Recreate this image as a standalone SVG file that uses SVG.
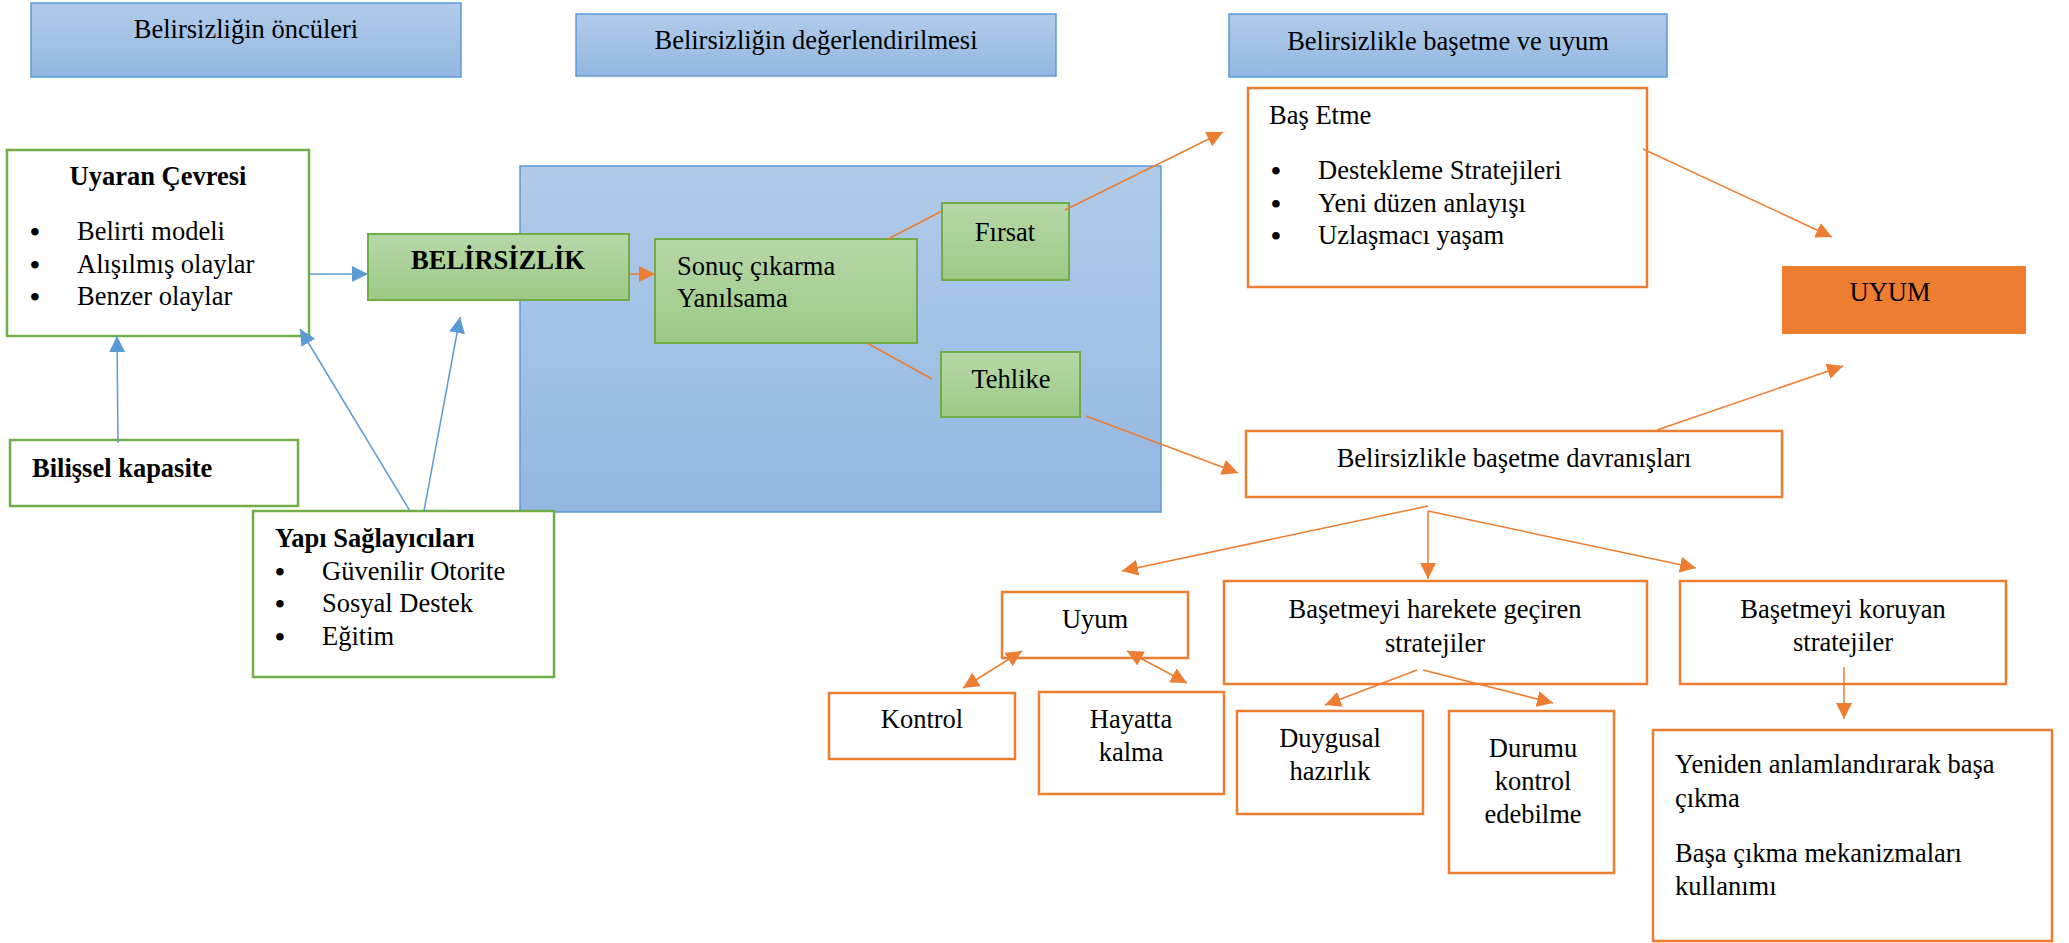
<svg xmlns="http://www.w3.org/2000/svg" width="2069" height="943" viewBox="0 0 2069 943">
<defs>
<linearGradient id="gBlue" x1="0" y1="0" x2="0" y2="1"><stop offset="0" stop-color="#B1CBE9"/><stop offset="1" stop-color="#93B7E1"/></linearGradient>
<linearGradient id="gGreen" x1="0" y1="0" x2="0" y2="1"><stop offset="0" stop-color="#B7D7A8"/><stop offset="1" stop-color="#9CCA86"/></linearGradient>
<marker id="aO" markerUnits="userSpaceOnUse" markerWidth="16" markerHeight="16" refX="16" refY="8" orient="auto-start-reverse"><path d="M0,0 L16,8 L0,16 z" fill="#ED7D31"/></marker>
<marker id="aB" markerUnits="userSpaceOnUse" markerWidth="16" markerHeight="16" refX="16" refY="8" orient="auto"><path d="M0,0 L16,8 L0,16 z" fill="#5B9BD5"/></marker>
<style>
text{font-family:"Liberation Serif","Times New Roman",serif;font-size:26.5px;fill:#000}
.b{font-weight:bold}
.m{text-anchor:middle}
.bl{text-anchor:middle;font-size:28px;font-weight:bold}
.hdr{fill:url(#gBlue);stroke:#5B9BD5;stroke-width:1.5}
.gbox{fill:#fff;stroke:#70AD47;stroke-width:2.5}
.gfill{fill:url(#gGreen);stroke:#70AD47;stroke-width:2}
.obox{fill:#fff;stroke:#ED7D31;stroke-width:2.5}
.co{stroke:#ED7D31;stroke-width:1.5;fill:none}
.cb{stroke:#5B9BD5;stroke-width:1.5;fill:none}
</style>
</defs>
<g id="hdr1"><rect class="hdr" x="31" y="3" width="430" height="74"/><text class="m" x="246" y="38">Belirsizliğin öncüleri</text></g>
<g id="hdr2"><rect class="hdr" x="576" y="14" width="480" height="62"/><text class="m" x="816" y="49">Belirsizliğin değerlendirilmesi</text></g>
<g id="hdr3"><rect class="hdr" x="1229" y="14" width="438" height="63"/><text class="m" x="1448" y="50">Belirsizlikle başetme ve uyum</text></g>
<g id="panel"><rect class="hdr" x="520" y="166" width="641" height="346"/></g>
<g id="uyaran"><rect class="gbox" x="7" y="150" width="302" height="186"/>
<text class="b m" x="158" y="185">Uyaran Çevresi</text>
<text class="bl" x="35" y="241">•</text><text x="77" y="240">Belirti modeli</text>
<text class="bl" x="35" y="274">•</text><text x="77" y="273">Alışılmış olaylar</text>
<text class="bl" x="35" y="306">•</text><text x="77" y="305">Benzer olaylar</text></g>
<g id="bilissel"><rect class="gbox" x="10" y="440" width="288" height="66"/><text class="b" x="32" y="477">Bilişsel kapasite</text></g>
<g id="yapi"><rect class="gbox" x="253" y="511" width="301" height="166"/>
<text class="b" x="275" y="547">Yapı Sağlayıcıları</text>
<text class="bl" x="280" y="581">•</text><text x="322" y="580">Güvenilir Otorite</text>
<text class="bl" x="280" y="613">•</text><text x="322" y="612">Sosyal Destek</text>
<text class="bl" x="280" y="646">•</text><text x="322" y="645">Eğitim</text></g>
<g id="belirsizlik"><rect class="gfill" x="368" y="234" width="261" height="66"/><text class="b m" x="498" y="269">BELİRSİZLİK</text></g>
<g id="sonuc"><rect class="gfill" x="655" y="239" width="262" height="104"/><text x="677" y="275">Sonuç çıkarma</text><text x="677" y="307">Yanılsama</text></g>
<g id="firsat"><rect class="gfill" x="942" y="203" width="127" height="77"/><text class="m" x="1005" y="241">Fırsat</text></g>
<g id="tehlike"><rect class="gfill" x="941" y="352" width="139" height="65"/><text class="m" x="1011" y="388">Tehlike</text></g>
<g id="basetme"><rect class="obox" x="1248" y="88" width="399" height="199"/>
<text x="1269" y="124">Baş Etme</text>
<text class="bl" x="1276" y="180">•</text><text x="1318" y="179">Destekleme Stratejileri</text>
<text class="bl" x="1276" y="213">•</text><text x="1318" y="212">Yeni düzen anlayışı</text>
<text class="bl" x="1276" y="245">•</text><text x="1318" y="244">Uzlaşmacı yaşam</text></g>
<g id="uyumBig"><rect x="1782" y="266" width="244" height="68" fill="#ED7D31"/><text class="m" x="1890" y="301">UYUM</text></g>
<g id="davranis"><rect class="obox" x="1246" y="431" width="536" height="66"/><text class="m" x="1514" y="467">Belirsizlikle başetme davranışları</text></g>
<g id="uyum"><rect class="obox" x="1002" y="592" width="186" height="66"/><text class="m" x="1095" y="628">Uyum</text></g>
<g id="harekete"><rect class="obox" x="1224" y="581" width="423" height="103"/><text class="m" x="1435" y="618">Başetmeyi harekete geçiren</text><text class="m" x="1435" y="652">stratejiler</text></g>
<g id="koruyan"><rect class="obox" x="1680" y="581" width="326" height="103"/><text class="m" x="1843" y="618">Başetmeyi koruyan</text><text class="m" x="1843" y="651">stratejiler</text></g>
<g id="kontrol"><rect class="obox" x="829" y="693" width="186" height="66"/><text class="m" x="922" y="728">Kontrol</text></g>
<g id="hayatta"><rect class="obox" x="1039" y="692" width="185" height="102"/><text class="m" x="1131" y="728">Hayatta</text><text class="m" x="1131" y="761">kalma</text></g>
<g id="duygusal"><rect class="obox" x="1237" y="711" width="186" height="103"/><text class="m" x="1330" y="747">Duygusal</text><text class="m" x="1330" y="780">hazırlık</text></g>
<g id="durumu"><rect class="obox" x="1449" y="711" width="165" height="162"/><text class="m" x="1533" y="757">Durumu</text><text class="m" x="1533" y="790">kontrol</text><text class="m" x="1533" y="823">edebilme</text></g>
<g id="yeniden"><rect class="obox" x="1653" y="730" width="399" height="211"/>
<text x="1675" y="773">Yeniden anlamlandırarak başa</text><text x="1675" y="807">çıkma</text>
<text x="1675" y="862">Başa çıkma mekanizmaları</text><text x="1675" y="895">kullanımı</text></g>
<g id="connectors">
<line class="cb" x1="309" y1="274" x2="368" y2="274" marker-end="url(#aB)"/>
<line class="cb" x1="118" y1="443" x2="117" y2="336" marker-end="url(#aB)"/>
<line class="cb" x1="410" y1="511" x2="300" y2="329" marker-end="url(#aB)"/>
<line class="cb" x1="424" y1="511" x2="460" y2="317" marker-end="url(#aB)"/>
<line class="co" x1="629" y1="274" x2="655" y2="274" marker-end="url(#aO)"/>
<line class="co" x1="888" y1="239" x2="942" y2="211"/>
<line class="co" x1="867" y1="343" x2="932" y2="379"/>
<line class="co" x1="1065" y1="210" x2="1223" y2="132" marker-end="url(#aO)"/>
<line class="co" x1="1086" y1="416" x2="1238" y2="473" marker-end="url(#aO)"/>
<line class="co" x1="1643" y1="149" x2="1832" y2="237" marker-end="url(#aO)"/>
<line class="co" x1="1657" y1="430" x2="1843" y2="366" marker-end="url(#aO)"/>
<line class="co" x1="1428" y1="506" x2="1122" y2="571" marker-end="url(#aO)"/>
<line class="co" x1="1428" y1="511" x2="1428" y2="579" marker-end="url(#aO)"/>
<line class="co" x1="1428" y1="511" x2="1696" y2="568" marker-end="url(#aO)"/>
<line class="co" x1="963" y1="688" x2="1022" y2="651" marker-start="url(#aO)" marker-end="url(#aO)"/>
<line class="co" x1="1127" y1="651" x2="1187" y2="683" marker-start="url(#aO)" marker-end="url(#aO)"/>
<line class="co" x1="1417" y1="670" x2="1325" y2="705" marker-end="url(#aO)"/>
<line class="co" x1="1423" y1="670" x2="1553" y2="703" marker-end="url(#aO)"/>
<line class="co" x1="1844" y1="667" x2="1844" y2="719" marker-end="url(#aO)"/>
</g>
</svg>
